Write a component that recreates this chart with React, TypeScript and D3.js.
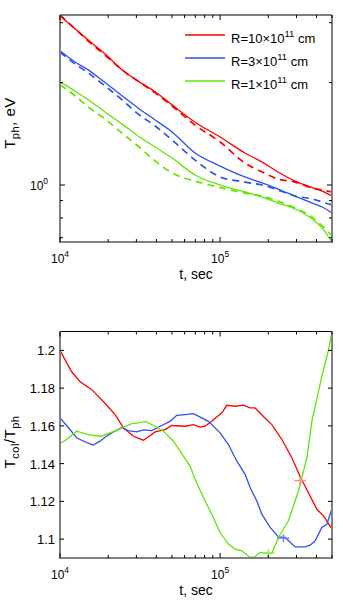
import React, { useEffect, useRef } from "react";
import * as d3 from "d3";

// top panel: photospheric temperature, eV (log-log)
const tTop = [10000, 12400, 15000, 19100, 24400, 30700, 39300, 50100, 69800, 100000, 143000, 183000, 230000, 294000, 376000, 434000, 500000];
const redSolid = [3.14, 2.88, 2.67, 2.43, 2.18, 2.02, 1.88, 1.72, 1.53, 1.384, 1.242, 1.168, 1.092, 1.027, 0.983, 0.96, 0.928];
const redDashed = [3.16, 2.88, 2.65, 2.41, 2.18, 2.02, 1.865, 1.707, 1.5, 1.338, 1.16, 1.092, 1.041, 1.02, 0.98, 0.967, 0.954];
const blueSolid = [2.48, 2.3, 2.18, 2.0, 1.83, 1.685, 1.553, 1.432, 1.242, 1.137, 1.056, 1.014, 0.973, 0.928, 0.885, 0.862, 0.827];
const blueDashed = [2.46, 2.27, 2.135, 1.955, 1.78, 1.618, 1.491, 1.356, 1.184, 1.056, 1.02, 1.0, 0.967, 0.928, 0.91, 0.891, 0.873];
const greenSolid = [2.01, 1.89, 1.78, 1.64, 1.51, 1.394, 1.294, 1.2, 1.07, 1.0, 0.954, 0.922, 0.885, 0.85, 0.794, 0.747, 0.68];
const greenDashed = [1.97, 1.83, 1.696, 1.564, 1.42, 1.302, 1.177, 1.085, 1.027, 0.983, 0.947, 0.928, 0.897, 0.856, 0.805, 0.758, 0.708];

// bottom panel: Tcol / Tph
const tRed = [10000, 11800, 13300, 15800, 19100, 22100, 24900, 28700, 33200, 39300, 45300, 49900, 60400, 68100, 75000, 80600, 88700, 102500, 110100, 124100, 139900, 154000, 165500, 186500, 210400, 243000, 280600, 320700, 356500, 402200, 442100, 500000];
const redRatio = [1.2, 1.1888, 1.1835, 1.1792, 1.172, 1.166, 1.159, 1.1545, 1.1524, 1.1568, 1.158, 1.1602, 1.1598, 1.1607, 1.1593, 1.1598, 1.1624, 1.1669, 1.1709, 1.1704, 1.171, 1.1695, 1.1695, 1.165, 1.1607, 1.1528, 1.1431, 1.132, 1.1246, 1.1158, 1.1123, 1.1053];
const tBlue = [10000, 11300, 12700, 14300, 16100, 17800, 19100, 21000, 24300, 26700, 30200, 33200, 37400, 42200, 48700, 53600, 60400, 68100, 76800, 84500, 100000, 112700, 127200, 143300, 154000, 169600, 182200, 205400, 231400, 254800, 294400, 339900, 365200, 392500, 432000, 464500, 500000];
const blueRatio = [1.1642, 1.159, 1.1537, 1.1516, 1.1498, 1.1519, 1.154, 1.1563, 1.159, 1.1575, 1.1568, 1.1579, 1.1575, 1.1598, 1.1624, 1.1656, 1.166, 1.1665, 1.1642, 1.1624, 1.1563, 1.1501, 1.1413, 1.1343, 1.1273, 1.1202, 1.1132, 1.1062, 1.1012, 1.1009, 1.0959, 1.0959, 1.0968, 1.0991, 1.1062, 1.1079, 1.1162];
const tGreen = [10000, 11000, 12700, 15000, 18200, 20500, 23100, 28100, 30900, 34000, 39300, 44200, 51100, 59000, 64900, 69800, 80600, 88700, 100000, 112700, 124100, 136700, 154000, 165500, 177800, 195900, 210400, 231400, 267300, 308600, 348400, 374300, 432000, 475400, 500000];
const greenRatio = [1.1505, 1.1528, 1.1572, 1.1554, 1.1545, 1.1563, 1.158, 1.1612, 1.1616, 1.1624, 1.1598, 1.1572, 1.1519, 1.144, 1.1387, 1.1317, 1.1202, 1.1132, 1.1035, 1.0974, 1.0947, 1.0938, 1.0903, 1.0907, 1.093, 1.0925, 1.0925, 1.1009, 1.1097, 1.1255, 1.1431, 1.1624, 1.1862, 1.2003, 1.21];
// "+" marks on the bottom panel
const markT = [316000, 248600, 200400];
const markRatio = [1.1311, 1.1004, 1.0926];

const legendNames = ["10", "3", "1"];
const xTickMajor = [10000, 100000];
const xTickMinor = [20000, 30000, 40000, 50000, 60000, 70000, 80000, 90000, 200000, 300000, 400000, 500000];
const yTopTicks = [0.7, 0.8, 0.9, 1, 2, 3];
const yBotTicks = [1.1, 1.12, 1.14, 1.16, 1.18, 1.2];

const RED = "#ff0000";
const BLUE = "#2f4ff5";
const GREEN = "#62e600";
const FONT = "'Liberation Sans', Arial, sans-serif";

const App = () => {
  const ref = useRef(null);

  useEffect(() => {
    const svg = d3.select(ref.current);
    svg.selectAll("*").remove();
    svg.attr("font-family", FONT);

    const left = 60;
    const right = 332;
    const x = d3.scaleLog().domain([1e4, 5e5]).range([left, right]);

    const frame = (top, bottom) => {
      svg.append("line").attr("x1", left).attr("x2", right).attr("y1", top).attr("y2", top)
        .attr("stroke", "#000").attr("stroke-width", 1);
      svg.append("path")
        .attr("d", `M${left},${top}V${bottom}H${right}V${top}`)
        .attr("fill", "none").attr("stroke", "#808080").attr("stroke-width", 2);
      // x ticks on both sides
      xTickMajor.concat(xTickMinor).forEach(v => {
        const len = xTickMajor.includes(v) ? 5 : 3;
        const px = x(v);
        svg.append("line").attr("x1", px).attr("x2", px).attr("y1", bottom).attr("y2", bottom - len).attr("stroke", "#000");
        svg.append("line").attr("x1", px).attr("x2", px).attr("y1", top).attr("y2", top + len).attr("stroke", "#000");
      });
      xTickMajor.forEach((v, i) => {
        const t = svg.append("text").attr("x", x(v)).attr("y", bottom + 20.5)
          .attr("text-anchor", "middle").attr("font-size", 12);
        t.append("tspan").text("10");
        t.append("tspan").attr("dy", -6).attr("font-size", 8.5).text(String(4 + i));
      });
      svg.append("text").attr("x", (left + right) / 2).attr("y", bottom + 37)
        .attr("text-anchor", "middle").attr("font-size", 14).text("t, sec");
    };

    const drawLine = (xs, ys, y, color, dashed) => {
      const line = d3.line()
        .x((d, i) => x(xs[i]))
        .y(d => y(d))
        .curve(dashed === null ? d3.curveLinear : d3.curveMonotoneX);
      svg.append("path")
        .datum(ys)
        .attr("d", line)
        .attr("fill", "none")
        .attr("stroke", color)
        .attr("stroke-width", dashed ? 1.7 : 1.3)
        .attr("stroke-dasharray", dashed ? "7,5" : null);
    };

    const yLabel = (cy, parts) => {
      const t = svg.append("text")
        .attr("transform", `translate(15,${cy}) rotate(-90)`)
        .attr("text-anchor", "middle").attr("font-size", 15).attr("letter-spacing", 0.5);
      parts.forEach(([s, sub]) => {
        t.append("tspan").attr("dy", sub).attr("font-size", sub > 0 ? 11 : null).text(s);
      });
    };

    // ---- top panel
    const top1 = 15, bot1 = 242;
    const yTop = d3.scaleLog().domain([0.68, 3.16]).range([bot1, top1]);

    drawLine(tTop, redDashed, yTop, RED, true);
    drawLine(tTop, blueDashed, yTop, BLUE, true);
    drawLine(tTop, greenDashed, yTop, GREEN, true);
    drawLine(tTop, redSolid, yTop, RED, false);
    drawLine(tTop, blueSolid, yTop, BLUE, false);
    drawLine(tTop, greenSolid, yTop, GREEN, false);

    frame(top1, bot1);
    yTopTicks.forEach(v => {
      const len = v === 1 ? 5 : 3;
      svg.append("line").attr("x1", left).attr("x2", left + len).attr("y1", yTop(v)).attr("y2", yTop(v)).attr("stroke", "#000");
      svg.append("line").attr("x1", right).attr("x2", right - len).attr("y1", yTop(v)).attr("y2", yTop(v)).attr("stroke", "#000");
    });
    const l0 = svg.append("text").attr("x", 30).attr("y", yTop(1) + 5).attr("font-size", 12);
    l0.append("tspan").text("10");
    l0.append("tspan").attr("dy", -6).attr("font-size", 8.5).text("0");

    yLabel(123, [["T", 0], ["ph", 4], [", eV", -4]]);

    // legend
    [RED, BLUE, GREEN].forEach((c, i) => {
      const ly = 35 + i * 23;
      svg.append("line").attr("x1", 185).attr("x2", 225).attr("y1", ly).attr("y2", ly)
        .attr("stroke", c).attr("stroke-width", 1.3);
      const t = svg.append("text").attr("x", 231).attr("y", ly + 7.5).attr("font-size", 13);
      t.append("tspan").text(`R=${legendNames[i]}\u00d710`);
      t.append("tspan").attr("dy", -6).attr("font-size", 9.5).text("11");
      t.append("tspan").attr("dy", 6).text(" cm");
    });

    // ---- bottom panel
    const top2 = 331.5, bot2 = 558;
    const yBot = d3.scaleLinear().domain([1.09, 1.21]).range([bot2, top2]);

    drawLine(tRed, redRatio, yBot, RED, null);
    drawLine(tBlue, blueRatio, yBot, BLUE, null);
    drawLine(tGreen, greenRatio, yBot, GREEN, null);

    const markColors = ["#ff8a8a", "#6f8cff", "#8cf04a"];
    markT.forEach((v, i) => {
      svg.append("path")
        .attr("d", "M-6,0H6M0,-4V4")
        .attr("transform", `translate(${x(v)},${yBot(markRatio[i])})`)
        .attr("stroke", markColors[i]).attr("stroke-width", 1.5).attr("fill", "none");
    });

    frame(top2, bot2);
    yBotTicks.forEach(v => {
      svg.append("line").attr("x1", left).attr("x2", left + 4).attr("y1", yBot(v)).attr("y2", yBot(v)).attr("stroke", "#000");
      svg.append("line").attr("x1", right).attr("x2", right - 4).attr("y1", yBot(v)).attr("y2", yBot(v)).attr("stroke", "#000");
      svg.append("text").attr("x", 55).attr("y", yBot(v) + 5).attr("font-size", 13)
        .attr("text-anchor", "end").text(d3.format("~g")(v));
    });

    yLabel(442, [["T", 0], ["col", 4], ["/T", -4], ["ph", 4]]);
  }, []);

  return (
    <svg
      ref={ref}
      width={343}
      height={603}
      style={{ position: "absolute", left: 0, top: 0, background: "#fff" }}
    ></svg>
  );
};

export default App;
